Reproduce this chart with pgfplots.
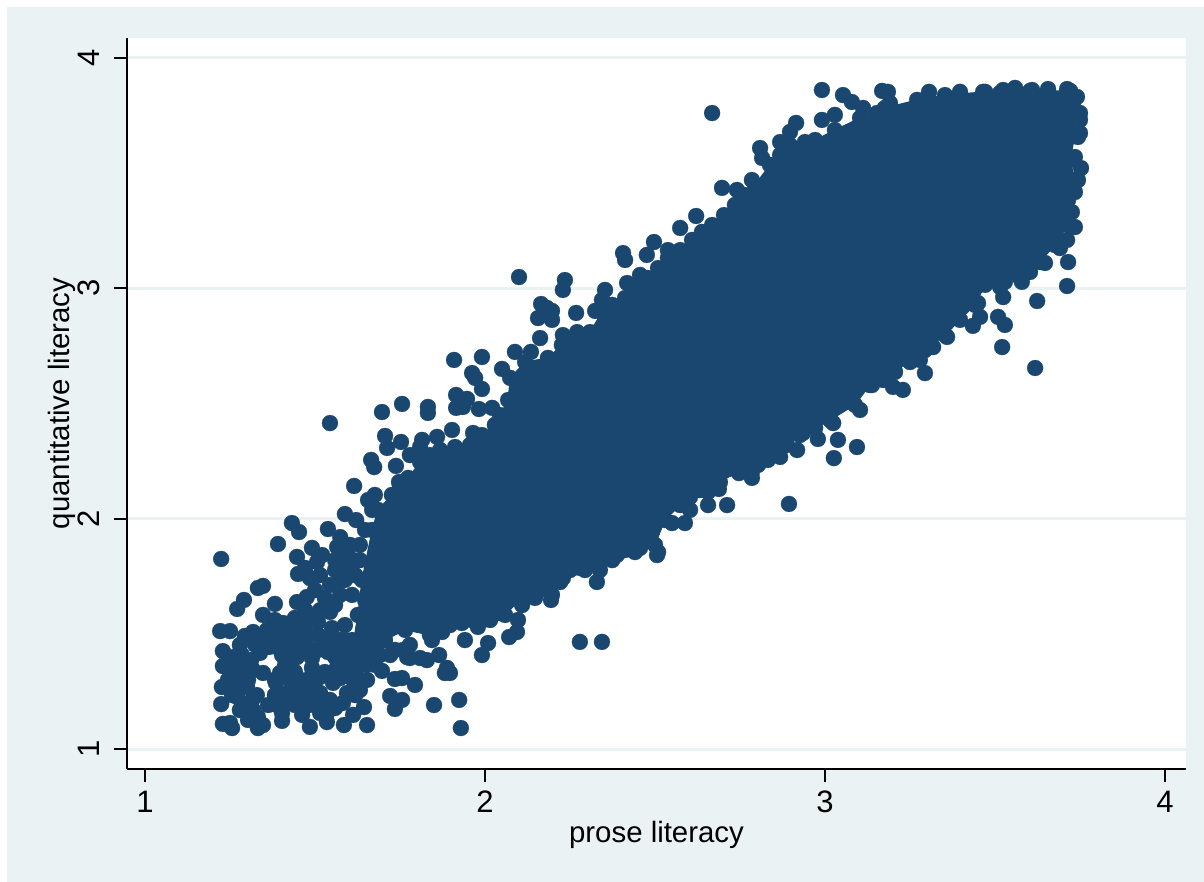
\documentclass[border=0pt]{standalone}
\usepackage{pgfplots}
\usepackage{pgfplotstable}
\usepackage{fontspec}
\setmainfont{Liberation Sans}
\pgfplotsset{compat=1.18}
\definecolor{statabg}{HTML}{EAF2F3}
\definecolor{statanavy}{HTML}{1A476F}
% Outline of the overplotted mass, where single dots cannot be told apart
\pgfplotstableread{
x y
1.609 1.43
1.626 1.582
1.638 1.734
1.668 1.951
1.685 2.038
1.726 2.103
1.774 2.177
1.809 2.246
1.868 2.298
1.956 2.32
2.029 2.407
2.068 2.515
2.074 2.611
2.118 2.68
2.185 2.698
2.226 2.754
2.309 2.81
2.344 2.897
2.412 2.958
2.479 3.045
2.538 3.132
2.609 3.21
2.668 3.275
2.735 3.362
2.794 3.449
2.838 3.536
2.897 3.622
2.971 3.644
3.029 3.687
3.103 3.74
3.176 3.783
3.271 3.818
3.353 3.839
3.471 3.853
3.603 3.857
3.721 3.857
3.735 3.774
3.735 3.666
3.721 3.557
3.735 3.47
3.715 3.384
3.715 3.275
3.676 3.188
3.632 3.114
3.574 3.045
3.471 3.015
3.441 2.928
3.353 2.797
3.294 2.732
3.206 2.637
3.132 2.58
3.088 2.494
3.015 2.428
2.926 2.363
2.853 2.276
2.75 2.203
2.632 2.124
2.574 2.059
2.529 1.994
2.5 1.886
2.412 1.864
2.338 1.777
2.25 1.777
2.197 1.669
2.103 1.647
2.059 1.582
1.971 1.551
1.897 1.538
1.838 1.495
1.765 1.517
1.706 1.473
1.662 1.408
}\coretable
\pgfplotstableread{
x y
2.668 3.761
2.991 3.861
2.621 3.314
2.697 3.436
2.741 3.427
2.785 3.47
2.809 3.609
2.815 3.566
2.868 3.635
2.897 3.679
2.915 3.718
2.941 3.635
2.991 3.731
3.029 3.753
3.053 3.839
3.079 3.809
3.112 3.783
3.153 3.761
3.168 3.857
3.185 3.853
3.191 3.805
3.271 3.796
3.306 3.853
3.353 3.831
3.397 3.853
3.465 3.853
3.524 3.861
3.559 3.87
3.609 3.861
3.656 3.865
3.712 3.865
3.741 3.831
3.75 3.761
3.75 3.731
3.75 3.674
3.744 3.657
3.735 3.57
3.753 3.522
3.744 3.47
3.735 3.418
3.726 3.331
3.735 3.266
3.712 3.21
3.691 3.175
3.715 3.114
3.647 3.11
3.579 3.028
3.712 3.01
3.624 2.945
3.524 2.962
3.515 3.006
3.509 2.876
3.529 2.841
3.435 2.837
3.456 2.876
3.45 2.936
3.521 2.745
3.618 2.654
3.359 2.789
3.318 2.745
3.294 2.632
3.279 2.689
3.2 2.572
3.229 2.559
3.138 2.58
3.103 2.472
3.094 2.311
3.038 2.342
3.026 2.263
2.979 2.346
3.024 2.415
2.918 2.298
2.832 2.255
2.868 2.268
2.935 2.372
2.985 2.441
2.785 2.177
2.785 2.203
2.747 2.198
2.894 2.064
2.656 2.116
2.688 2.129
2.656 2.059
2.712 2.059
2.603 2.038
2.588 1.981
2.55 1.981
2.506 1.842
2.509 1.855
2.441 1.855
2.388 1.842
2.329 1.725
2.279 1.786
2.229 1.742
2.194 1.647
2.344 1.465
2.279 1.465
2.109 1.625
2.097 1.56
2.094 1.508
2.071 1.486
2.044 1.59
1.991 1.408
2.009 1.46
1.941 1.473
1.888 1.352
1.865 1.408
1.829 1.386
1.844 1.473
1.874 1.508
1.932 1.547
1.979 1.53
1.771 1.399
1.929 1.091
1.924 1.213
1.85 1.191
1.897 1.33
1.882 1.33
1.615 2.142
1.588 2.02
1.432 1.981
1.453 1.942
1.538 1.955
1.574 1.92
1.391 1.89
1.224 1.825
1.447 1.834
1.491 1.873
1.521 1.842
1.565 1.877
1.45 1.76
1.471 1.786
1.506 1.812
1.347 1.708
1.332 1.699
1.291 1.647
1.271 1.608
1.382 1.63
1.347 1.582
1.447 1.638
1.476 1.66
1.221 1.512
1.25 1.512
1.294 1.491
1.318 1.508
1.359 1.517
1.406 1.547
1.456 1.56
1.229 1.425
1.259 1.399
1.285 1.408
1.229 1.36
1.259 1.343
1.3 1.356
1.338 1.417
1.388 1.443
1.418 1.473
1.476 1.486
1.226 1.269
1.265 1.287
1.3 1.269
1.318 1.343
1.347 1.33
1.397 1.33
1.447 1.399
1.494 1.43
1.535 1.46
1.574 1.473
1.224 1.195
1.271 1.226
1.315 1.213
1.382 1.234
1.435 1.265
1.397 1.243
1.476 1.3
1.515 1.313
1.565 1.356
1.494 1.226
1.553 1.287
1.594 1.243
1.229 1.109
1.25 1.113
1.256 1.091
1.303 1.126
1.332 1.091
1.347 1.104
1.318 1.169
1.403 1.156
1.403 1.122
1.462 1.148
1.485 1.096
1.535 1.117
1.535 1.156
1.585 1.104
1.612 1.148
1.653 1.104
1.644 1.182
1.582 1.2
1.515 1.243
1.612 1.3
1.653 1.3
1.697 1.339
1.735 1.304
1.756 1.308
1.794 1.278
1.721 1.23
1.756 1.213
1.735 1.174
1.759 1.43
1.779 1.395
1.809 1.395
1.515 1.755
1.559 1.777
1.603 1.799
1.588 1.734
1.544 1.712
1.5 1.69
1.574 1.669
1.529 1.656
1.609 1.669
1.544 1.595
1.509 1.551
1.471 1.603
1.441 1.569
1.588 1.538
1.55 1.525
1.509 1.495
1.471 1.53
1.609 1.473
1.574 1.43
1.538 1.421
1.609 1.408
1.574 1.365
1.529 1.334
1.603 1.352
1.491 1.352
1.426 1.386
1.403 1.408
1.441 1.334
1.574 1.308
1.618 1.334
1.65 1.365
1.676 1.43
1.691 1.473
1.721 1.408
1.662 1.473
1.344 1.473
1.382 1.495
1.421 1.517
1.324 1.452
1.426 1.452
1.412 1.365
1.456 1.43
1.303 1.3
1.329 1.234
1.279 1.169
1.362 1.191
1.441 1.191
1.485 1.191
1.544 1.213
1.426 1.3
1.279 1.452
1.312 1.386
1.285 1.36
1.244 1.3
1.279 1.321
1.256 1.234
1.294 1.191
1.303 1.161
1.332 1.139
1.426 1.213
1.388 1.191
1.385 1.287
1.382 1.3
1.421 1.243
1.456 1.234
1.456 1.191
1.509 1.191
1.515 1.156
1.559 1.178
1.618 1.234
1.632 1.256
1.485 1.256
1.456 1.291
1.5 1.291
1.559 1.334
1.491 1.395
1.509 1.43
1.559 1.399
1.588 1.386
1.632 1.386
1.647 1.43
1.676 1.365
1.588 1.473
1.544 1.482
1.441 1.473
1.456 1.517
1.485 1.569
1.515 1.603
1.426 1.517
1.382 1.56
1.397 1.517
1.365 1.443
1.574 1.734
1.618 1.755
1.632 1.82
1.597 1.842
1.632 1.886
1.647 1.951
1.603 1.886
1.559 1.82
1.588 1.777
1.485 1.742
1.559 1.625
1.647 1.647
1.662 1.56
1.676 1.495
1.735 1.43
1.779 1.452
1.691 1.408
1.668 2.038
1.656 2.081
1.621 1.994
1.697 2.463
1.756 2.498
1.832 2.485
1.832 2.459
1.706 2.359
1.712 2.307
1.753 2.333
1.738 2.229
1.747 2.159
1.544 2.415
1.665 2.255
1.674 2.224
1.676 2.103
1.779 2.276
1.809 2.311
1.815 2.342
1.859 2.355
1.903 2.385
1.965 2.372
1.915 2.537
1.947 2.52
1.915 2.481
1.935 2.485
1.982 2.476
2.021 2.481
1.909 2.689
1.991 2.702
1.962 2.632
1.971 2.611
1.991 2.563
2.05 2.65
2.088 2.724
2.135 2.724
2.162 2.784
2.1 3.049
2.235 3.036
2.229 2.993
2.165 2.932
2.197 2.902
2.182 2.915
2.156 2.871
2.197 2.863
2.268 2.893
2.229 2.797
2.271 2.81
2.324 2.902
2.344 2.949
2.353 2.993
2.406 3.153
2.412 3.123
2.476 3.145
2.497 3.201
2.538 3.166
2.418 3.023
2.456 3.058
2.574 3.262
3.603 3.071
3.529 3.028
3.397 2.863
3.25 2.68
3.171 2.602
2.971 2.394
2.888 2.32
2.803 2.233
2.691 2.159
2.603 2.094
2.456 1.873
2.374 1.82
2.294 1.777
2.221 1.725
2.147 1.656
2.015 1.56
1.75 2.133
1.838 2.276
1.912 2.311
1.991 2.363
2.044 2.45
2.268 2.776
2.374 2.928
2.444 3.002
2.509 3.088
2.574 3.166
2.638 3.245
2.703 3.318
2.765 3.405
2.868 3.579
3.515 3.848
}\dotstable
\begin{document}
\begin{tikzpicture}[x=1pt,y=1pt]
\path[use as bounding box,fill=white] (-63.5,-56.5) rectangle (538.5,384.5);
\fill[statabg] (-60,-56.5) rectangle (538.5,381);
\begin{axis}[
  at={(0,0)},anchor=south west,
  scale only axis,width=529.5pt,height=365.5pt,
  xmin=0.947,xmax=4.0618,ymin=0.9132,ymax=4.0868,
  axis background/.style={fill=white},
  axis x line*=bottom,axis y line*=left,
  axis line style={black,line width=1pt,-},
  xtick={1,2,3,4},ytick={1,2,3,4},
  tick align=outside,major tick length=6.5pt,
  tick style={black,line width=1pt},
  ymajorgrids,
  grid style={statabg,line width=1.5pt},
  /pgf/number format/assume math mode=true,
  tick label style={font=\fontsize{15.5}{18}\selectfont},
  yticklabel style={rotate=90,anchor=south,yshift=3.5pt},
  xticklabel style={yshift=-1pt},
  label style={font=\fontsize{14.7}{18}\selectfont},
  xlabel={prose literacy},ylabel={quantitative literacy},
  xlabel style={at={(axis description cs:0.5,0)},anchor=center,yshift=-33pt},
  ylabel style={at={(axis description cs:0,0.5)},anchor=center,yshift=32.5pt},
]
\addplot[fill=statanavy,draw=statanavy,line width=0.5pt,forget plot] table[x=x,y=y] {\coretable} --cycle;
\addplot[only marks,mark=*,mark size=4pt,mark options={fill=statanavy,draw=statanavy,line width=0.1pt},forget plot] table[x=x,y=y] {\coretable};
\addplot[only marks,mark=*,mark size=4pt,mark options={fill=statanavy,draw=statanavy,line width=0.1pt},forget plot] table[x=x,y=y] {\dotstable};
\end{axis}
\end{tikzpicture}
\end{document}
